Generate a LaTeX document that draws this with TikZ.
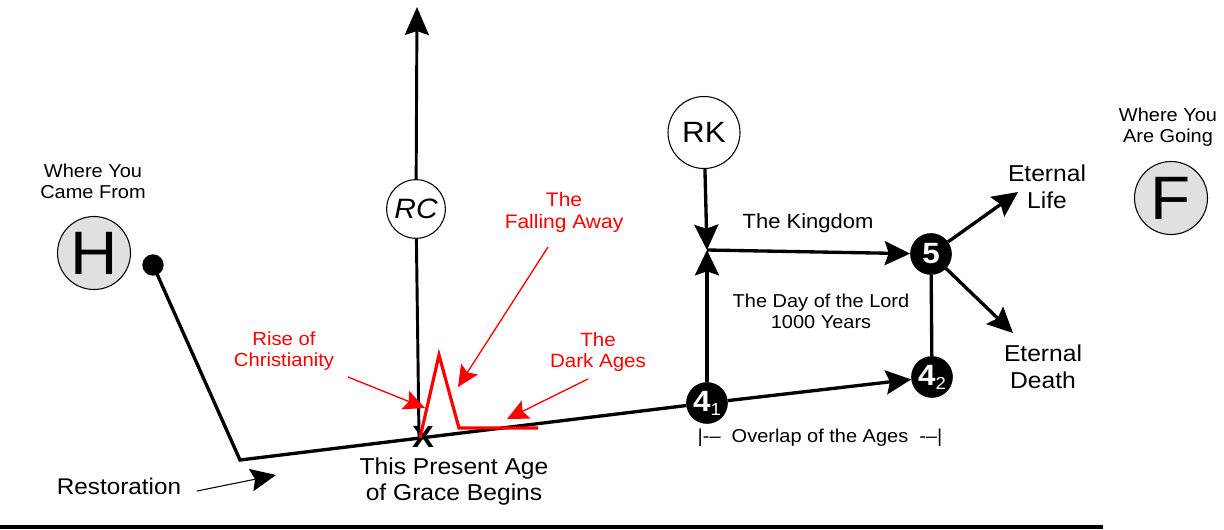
\documentclass[tikz,border=0pt]{standalone}
\usepackage{fontspec}
\setmainfont{Liberation Sans}[FakeStretch=1.07]
\usetikzlibrary{arrows.meta}
\definecolor{lgray}{HTML}{E0E0E0}
\definecolor{myred}{HTML}{FF0000}
\tikzset{
  graycirc/.style={circle,draw=black,line width=0.8pt,fill=lgray,inner sep=0pt,minimum size=54.75pt,font=\fontsize{46}{46}\selectfont},
  whitecirc/.style={circle,draw=black,line width=0.8pt,fill=white,inner sep=0pt},
  blackcirc/.style={circle,fill=black,text=white,inner sep=0pt,minimum size=31pt,font=\bfseries\fontsize{22}{22}\selectfont},
  mainline/.style={line width=2.5pt},
  bigarr/.style={line width=2.5pt,-{Stealth[length=19pt,width=18pt,inset=3pt]}},
  redarr/.style={line width=1pt,myred,-{Stealth[length=16pt,width=15pt,inset=3pt]}},
  lbl/.style={align=center,inner sep=0pt},
  redlbl/.style={align=center,inner sep=0pt,text=myred,font=\fontsize{14.2}{15.75}\selectfont},
}
\begin{document}
\begin{tikzpicture}[x=0.75pt,y=-0.75pt]
\useasboundingbox (0,0) rectangle (1224,529);
% nodes
\node[graycirc] (H) at (94,253) {H};
\node[graycirc] (F) at (1171,198) {F};
\node[lbl,font=\fontsize{14}{15.75}\selectfont] (wcf) at (93,181) {Where You\\Came From};
\node[lbl,font=\fontsize{14}{15.75}\selectfont] (wag) at (1168,127) {Where You\\Are Going};
\node[circle,fill=black,inner sep=0pt,minimum size=16pt] (dot) at (153,265) {};
\node[whitecirc,minimum size=44pt,font=\itshape\fontsize{21}{21}\selectfont] (RC) at (416,209) {RC};
\node[whitecirc,minimum size=54pt,font=\fontsize{22}{22}\selectfont] (RK) at (704,132.5) {RK};
\node[blackcirc] (n41) at (707,403) {4\raisebox{-3pt}{\mdseries\fontsize{13}{13}\selectfont 1}};
\node[blackcirc] (n42) at (932,377) {4\raisebox{-3pt}{\mdseries\fontsize{13}{13}\selectfont 2}};
\node[blackcirc] (n5) at (931,254) {5};
% coordinates
\coordinate (corner) at (240,460);
\coordinate (X) at (419,437);
\coordinate (top) at (417,7);
\coordinate (K) at (707,250);
\coordinate (EL) at (1018,192);
\coordinate (ED) at (1013,333);
\coordinate (rs) at (197,491);
\coordinate (re) at (276,475);
% main lines
\draw[mainline,line join=miter] (dot.center) -- (corner) -- (n41);
\draw[line width=2.2pt] (X) -- (RC);
\draw[line width=2.2pt,-{Stealth[length=21pt,width=18pt,inset=3pt]}] (RC) -- (top);
\draw[bigarr] (RK) -- (K);
\draw[bigarr] (n41) -- (K);
\draw[bigarr] (K) -- (n5);
\draw[mainline] (n5) -- (n42);
\draw[bigarr] (n41) -- (n42);
\draw[bigarr] (n5) -- (EL);
\draw[bigarr] (n5) -- (ED);
\draw[line width=0.8pt,-{Stealth[length=19pt,width=17pt,inset=3pt]}] (rs) -- (re);
% redraw nodes on top
\node[blackcirc] at (n41) {4\raisebox{-3pt}{\mdseries\fontsize{13}{13}\selectfont 1}};
\node[blackcirc] at (n42) {4\raisebox{-3pt}{\mdseries\fontsize{13}{13}\selectfont 2}};
\node[blackcirc] at (n5) {5};
% X mark
\node[inner sep=0pt,font=\bfseries\fontsize{23}{23}\selectfont] (xm) at (423,437) {X};
% red shape
\coordinate (r1) at (420,438);
\coordinate (r2) at (439,355);
\coordinate (r3) at (459,428);
\coordinate (r4) at (538,428);
\draw[myred,line width=2.4pt,line join=miter] (r1) -- (r2) -- (r3) -- (r4);
% red arrows
\coordinate (a1s) at (348,377); \coordinate (a1e) at (425,408);
\coordinate (a2s) at (548,247); \coordinate (a2e) at (458,387);
\coordinate (a3s) at (588,379); \coordinate (a3e) at (507,419);
\draw[redarr] (a1s) -- (a1e);
\draw[redarr] (a2s) -- (a2e);
\draw[redarr] (a3s) -- (a3e);
% labels
\node[redlbl] (rise) at (284,351) {Rise of\\Christianity};
\node[redlbl,font=\fontsize{14.7}{16.5}\selectfont] (fall) at (564,212) {The\\Falling Away};
\node[redlbl,font=\fontsize{14.4}{15.75}\selectfont] (dark) at (598,352) {The\\Dark Ages};
\node[lbl,font=\fontsize{17}{17}\selectfont] (rest) at (119,486) {Restoration};
\node[lbl,font=\fontsize{17.25}{19.5}\selectfont] (tpa) at (454,482) {This Present Age\\of Grace Begins};
\node[lbl,font=\fontsize{15.4}{15.4}\selectfont] (king) at (808,223) {The Kingdom};
\node[lbl,font=\fontsize{14}{15.75}\selectfont] (day) at (821,311) {The Day of the Lord\\1000 Years};
\node[lbl,font=\fontsize{14}{14}\selectfont] (ovl) at (820,438) {|-{}--\ \ Overlap of the Ages\ \ -{}--|};
\node[lbl,font=\fontsize{17.25}{20}\selectfont] (life) at (1047,187) {Eternal\\Life};
\node[lbl,font=\fontsize{17.25}{20}\selectfont] (death) at (1043,367) {Eternal\\Death};
% bottom rule
\coordinate (b1) at (0,527);
\coordinate (b2) at (1103,527);
\draw[line width=2.3pt] (b1) -- (b2);
\end{tikzpicture}
\end{document}
